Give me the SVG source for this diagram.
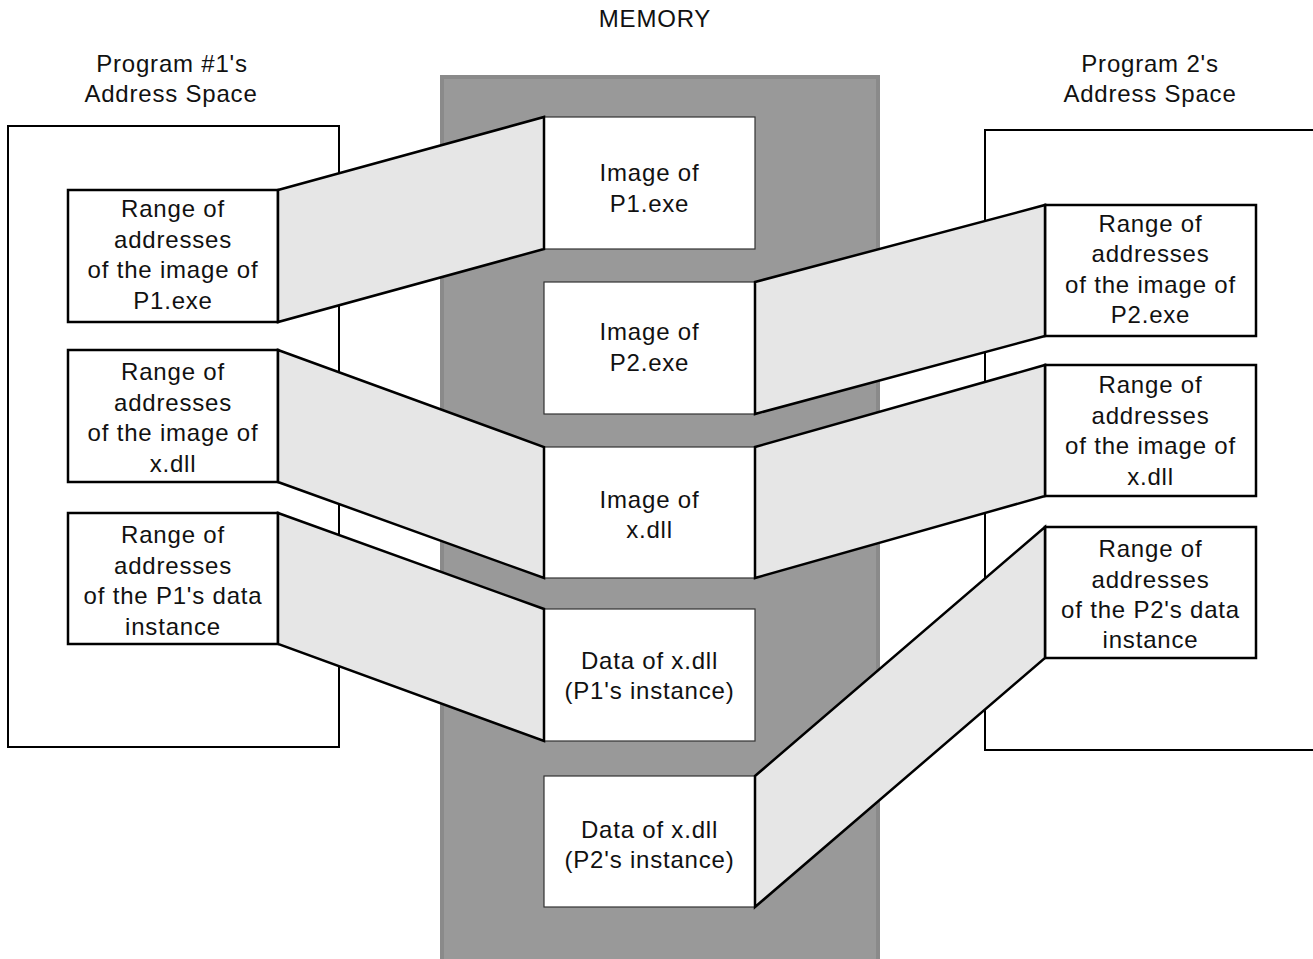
<svg xmlns="http://www.w3.org/2000/svg" width="1313" height="959" viewBox="0 0 1313 959">
  <style>
    text { font-family: "Liberation Sans", Arial, sans-serif; font-size: 24px; fill: #111; text-anchor: middle; letter-spacing: 0.8px; }
    .space { fill: #fff; stroke: #000; stroke-width: 2; }
    .memory { fill: #999; stroke: #8a8a8a; stroke-width: 4; }
    .mem-box { fill: #fff; stroke: #333; stroke-width: 1.2; }
    .range { fill: #fff; stroke: #000; stroke-width: 2.5; }
    .map { fill: #e6e6e6; stroke: #000; stroke-width: 2.5; stroke-linejoin: miter; }
  </style>
  <rect width="1313" height="959" fill="#fff"/>

  <!-- titles -->
  <g id="titles">
    <text x="655" y="27">MEMORY</text>
    <text x="172" y="72">Program #1's</text>
    <text x="171" y="102">Address Space</text>
    <text x="1150" y="72">Program 2's</text>
    <text x="1150" y="102">Address Space</text>
  </g>

  <!-- address spaces -->
  <g id="space-p1"><rect class="space" x="8" y="126" width="331" height="621"/></g>
  <g id="space-p2"><rect class="space" x="985" y="130" width="340" height="620"/></g>

  <!-- physical memory -->
  <g id="memory">
    <rect class="memory" x="442" y="77" width="436" height="900"/>
  </g>

  <g id="mem-p1exe">
    <rect class="mem-box" x="544" y="117" width="211" height="132"/>
    <text x="649.5" y="181">Image of</text>
    <text x="649.5" y="212">P1.exe</text>
  </g>
  <g id="mem-p2exe">
    <rect class="mem-box" x="544" y="282" width="211" height="132"/>
    <text x="649.5" y="340">Image of</text>
    <text x="649.5" y="371">P2.exe</text>
  </g>
  <g id="mem-xdll">
    <rect class="mem-box" x="544" y="447" width="211" height="131"/>
    <text x="649.5" y="508">Image of</text>
    <text x="649.5" y="538">x.dll</text>
  </g>
  <g id="mem-data-p1">
    <rect class="mem-box" x="544" y="609" width="211" height="132"/>
    <text x="649.5" y="669">Data of x.dll</text>
    <text x="649.5" y="699">(P1's instance)</text>
  </g>
  <g id="mem-data-p2">
    <rect class="mem-box" x="544" y="776" width="211" height="131"/>
    <text x="649.5" y="838">Data of x.dll</text>
    <text x="649.5" y="868">(P2's instance)</text>
  </g>

  <!-- program 1 address ranges -->
  <g id="p1-range-exe">
    <rect class="range" x="68" y="190" width="210" height="132"/>
    <text x="173" y="217">Range of</text>
    <text x="173" y="248">addresses</text>
    <text x="173" y="278">of the image of</text>
    <text x="173" y="309">P1.exe</text>
  </g>
  <g id="p1-range-dll">
    <rect class="range" x="68" y="350" width="210" height="132"/>
    <text x="173" y="380">Range of</text>
    <text x="173" y="411">addresses</text>
    <text x="173" y="441">of the image of</text>
    <text x="173" y="472">x.dll</text>
  </g>
  <g id="p1-range-data">
    <rect class="range" x="68" y="513" width="210" height="131"/>
    <text x="173" y="543">Range of</text>
    <text x="173" y="574">addresses</text>
    <text x="173" y="604">of the P1's data</text>
    <text x="173" y="635">instance</text>
  </g>

  <!-- program 2 address ranges -->
  <g id="p2-range-exe">
    <rect class="range" x="1045" y="205" width="211" height="131"/>
    <text x="1150.5" y="232">Range of</text>
    <text x="1150.5" y="262">addresses</text>
    <text x="1150.5" y="293">of the image of</text>
    <text x="1150.5" y="323">P2.exe</text>
  </g>
  <g id="p2-range-dll">
    <rect class="range" x="1045" y="365" width="211" height="131"/>
    <text x="1150.5" y="393">Range of</text>
    <text x="1150.5" y="424">addresses</text>
    <text x="1150.5" y="454">of the image of</text>
    <text x="1150.5" y="485">x.dll</text>
  </g>
  <g id="p2-range-data">
    <rect class="range" x="1045" y="527" width="211" height="131"/>
    <text x="1150.5" y="557">Range of</text>
    <text x="1150.5" y="588">addresses</text>
    <text x="1150.5" y="618">of the P2's data</text>
    <text x="1150.5" y="648">instance</text>
  </g>

  <!-- mapping bands between address ranges and memory -->
  <g id="connectors">
    <polygon class="map" points="278,190 544,117 544,249 278,322"/>
    <polygon class="map" points="278,350 544,447 544,578 278,482"/>
    <polygon class="map" points="278,513 544,609 544,741 278,644"/>
    <polygon class="map" points="755,282 1045,205 1045,336 755,414"/>
    <polygon class="map" points="755,447 1045,365 1045,496 755,578"/>
    <polygon class="map" points="755,776 1045,527 1045,658 755,907"/>
  </g>
</svg>
